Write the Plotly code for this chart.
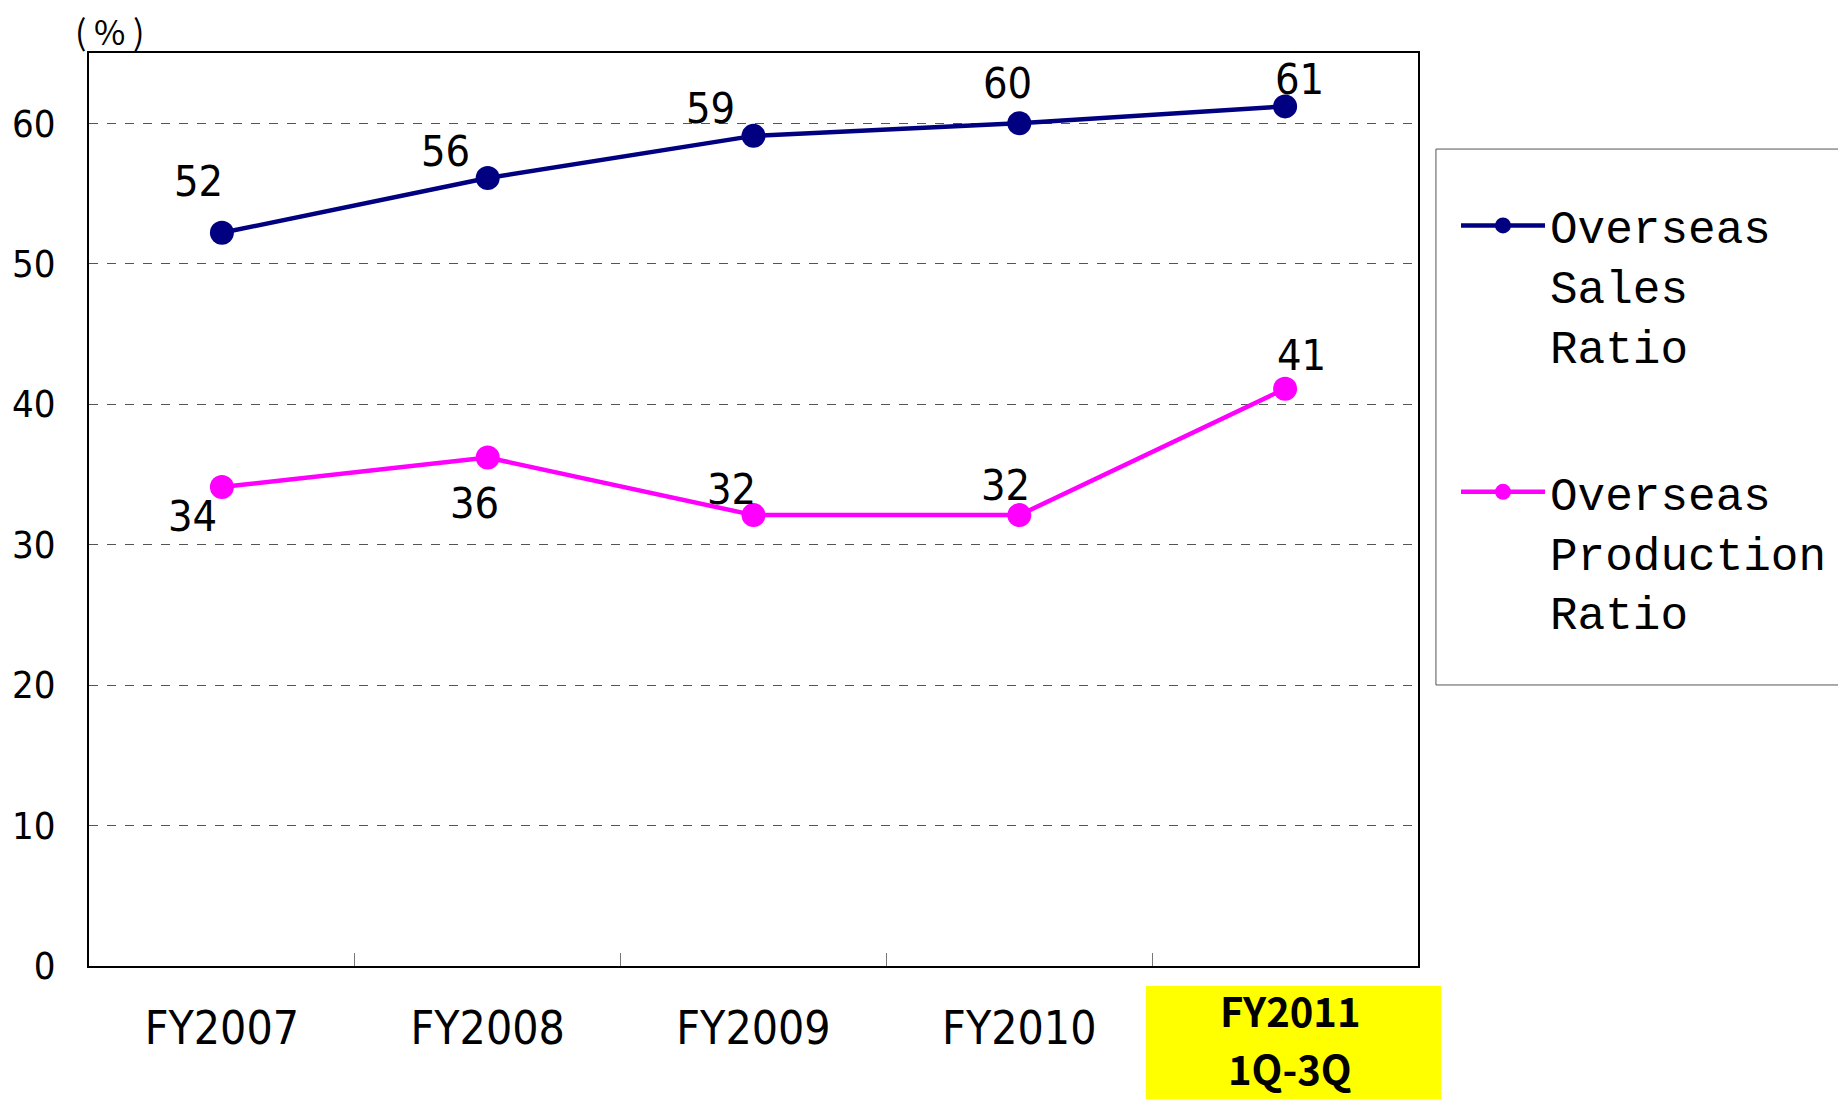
import plotly.graph_objects as go

categories = ["FY2007", "FY2008", "FY2009", "FY2010", "FY2011"]
tick_labels = ["FY2007", "FY2008", "FY2009", "FY2010"]
highlight_lines = ["FY2011", "1Q-3Q"]
sales = [52.2, 56.1, 59.1, 60.0, 61.2]
production = [34.1, 36.2, 32.1, 32.1, 41.1]
series_names = ["Overseas<br>Sales<br>Ratio", "Overseas<br>Production<br>Ratio"]
y_ticks = [0, 10, 20, 30, 40, 50, 60]

NARROW = "Liberation Sans Narrow, DejaVu Sans Condensed, Roboto Condensed, Liberation Sans, sans-serif"
MONO = "Liberation Mono, DejaVu Sans Mono, monospace"
CJK = "Noto Sans CJK JP, sans-serif"

NAVY = "#000080"
MAGENTA = "#FF00FF"

# label offsets (pixels) for each data label
sales_shift = [(-23, 52), (-42, 27), (-43, 28), (-12, 40), (14, 27)]
prod_shift = [(-29, -29), (-13, -45), (-22, 26), (-14, 30), (16, 34)]

fig = go.Figure()
fig.add_trace(go.Scatter(
    x=categories, y=sales, name=series_names[0], mode="lines+markers",
    line=dict(color=NAVY, width=4.5), marker=dict(color=NAVY, size=24),
    legendgroup="a"))
fig.add_trace(go.Scatter(
    x=categories, y=production, name=series_names[1], mode="lines+markers",
    line=dict(color=MAGENTA, width=4.5), marker=dict(color=MAGENTA, size=24),
    legendgroup="b"))

annotations = []
for vals, shifts in ((sales, sales_shift), (production, prod_shift)):
    for c, v, (dx, dy) in zip(categories, vals, shifts):
        annotations.append(dict(
            x=c, y=v, xref="x", yref="y", text=str(round(v)), showarrow=False,
            xanchor="center", yanchor="middle",
            xshift=dx, yshift=dy, font=dict(family=NARROW, size=43, color="black")))

annotations.append(dict(
    x=0.016, y=1.025, xref="paper", yref="paper", text="( % )", showarrow=False,
    xanchor="center", yanchor="middle",
    font=dict(family=CJK, size=34, color="black")))

for line_text, ypos in zip(highlight_lines, [-0.0482, -0.1117]):
    annotations.append(dict(
        x=categories[-1], y=ypos, xref="x", yref="paper", text=line_text,
        showarrow=False, xanchor="center", yanchor="middle", xshift=5,
        font=dict(family=CJK, size=40, color="black", weight="bold")))

fig.update_layout(
    width=1838, height=1100,
    paper_bgcolor="white", plot_bgcolor="white",
    margin=dict(l=89, r=420, t=53, b=134, autoexpand=False),
    showlegend=True,
    legend=dict(
        x=1.0286, y=0.851, xanchor="left", yanchor="top", valign="top",
        font=dict(family=MONO, size=46, color="black"),
        bgcolor="rgba(0,0,0,0)", borderwidth=0,
        traceorder="grouped", tracegroupgap=84, itemwidth=84),
    annotations=annotations,
    shapes=[
        dict(type="rect", xref="paper", yref="paper",
             x0=0.7953, x1=1.0173, y0=-0.146, y1=-0.022,
             fillcolor="#FFFF00", line=dict(width=0), layer="below"),
        dict(type="rect", xref="paper", yref="paper",
             x0=1.0135, x1=1.33, y0=0.3078, y1=0.8948,
             fillcolor="rgba(0,0,0,0)", line=dict(color="#555555", width=1)),
    ],
)

fig.update_xaxes(
    type="category", categoryorder="array", categoryarray=categories,
    range=[-0.5, 4.5],
    tickvals=categories[:-1], ticktext=tick_labels,
    showline=True, mirror=True, linecolor="black", linewidth=2,
    ticks="inside", tickson="boundaries", ticklen=13, tickcolor="#777777", tickwidth=1,
    showgrid=False, ticklabelstandoff=21,
    tickfont=dict(family=NARROW, size=46, color="black"))

fig.update_yaxes(
    range=[0, 65], tickvals=y_ticks,
    showline=True, mirror=True, linecolor="black", linewidth=2,
    ticks="", showgrid=True, gridcolor="#555555", gridwidth=1, griddash="dash",
    zeroline=False, ticklabelstandoff=24,
    tickfont=dict(family=NARROW, size=38, color="black"))

fig.write_html("out.html", config={"displayModeBar": False},
               post_script="document.body.style.margin='0';")
